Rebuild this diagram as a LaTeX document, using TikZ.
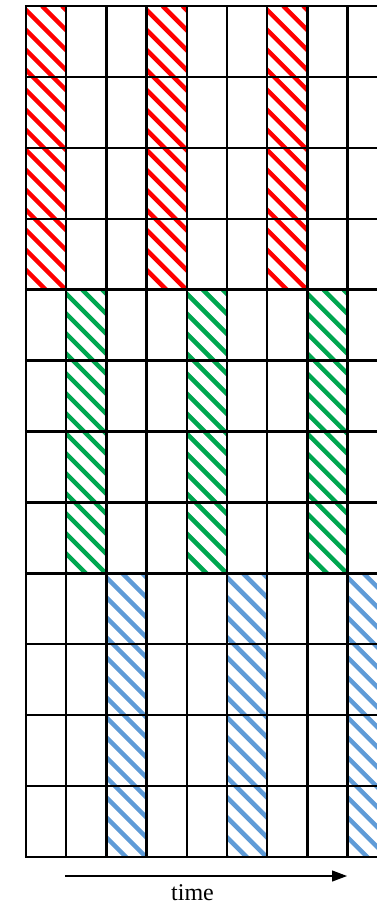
\documentclass[tikz,border=0pt]{standalone}
\usepackage{fontspec}
\setmainfont{Liberation Serif}
\usetikzlibrary{arrows.meta}
\definecolor{hred}{RGB}{255,0,0}
\definecolor{hgreen}{RGB}{0,166,80}
\definecolor{hblue}{RGB}{95,155,215}
\newcommand\hatchblock[3]{%
  \begin{scope}
    \clip ({26+40.2*#1},{6+70.92*#2}) rectangle ({26+40.2*(#1+1)},{6+70.92*(#2+4)});
    \foreach \k in {-320,-300,...,60}
      \draw[hatchline,#3] ({26+40.2*#1+\k-4},{6+70.92*#2}) -- ++(320,320);
  \end{scope}}
\begin{document}
\begin{tikzpicture}[x=1pt,y=-1pt,
  gridline/.style={line width=2.4pt,black},
  hatchline/.style={line width=4.5pt},
  timearrow/.style={line width=1.2pt,-{Triangle[length=15pt,width=11pt]}}]
\useasboundingbox (0,0) rectangle (377,906);
\clip (0,0) rectangle (377,906);
\fill[white] (0,0) rectangle (377,906);
% hatched blocks
\foreach \c in {0,3,6} {\hatchblock{\c}{0}{hred}}
\foreach \c in {1,4,7} {\hatchblock{\c}{4}{hgreen}}
\foreach \c in {2,5,8} {\hatchblock{\c}{8}{hblue}}
% grid
\foreach \j in {0,...,12}
  \draw[gridline] (24.8,{6+70.92*\j}) -- (390,{6+70.92*\j});
\foreach \i in {0,...,9}
  \draw[gridline] ({26+40.2*\i},6) -- ({26+40.2*\i},857);
% time arrow
\coordinate (tstart) at (65,876);
\coordinate (tend) at (347,876);
\draw[timearrow] (tstart) -- (tend);
\node[anchor=base,font=\fontsize{24}{26}\selectfont,inner sep=0pt] (timelabel) at (192.5,900) {time};
\end{tikzpicture}
\end{document}
